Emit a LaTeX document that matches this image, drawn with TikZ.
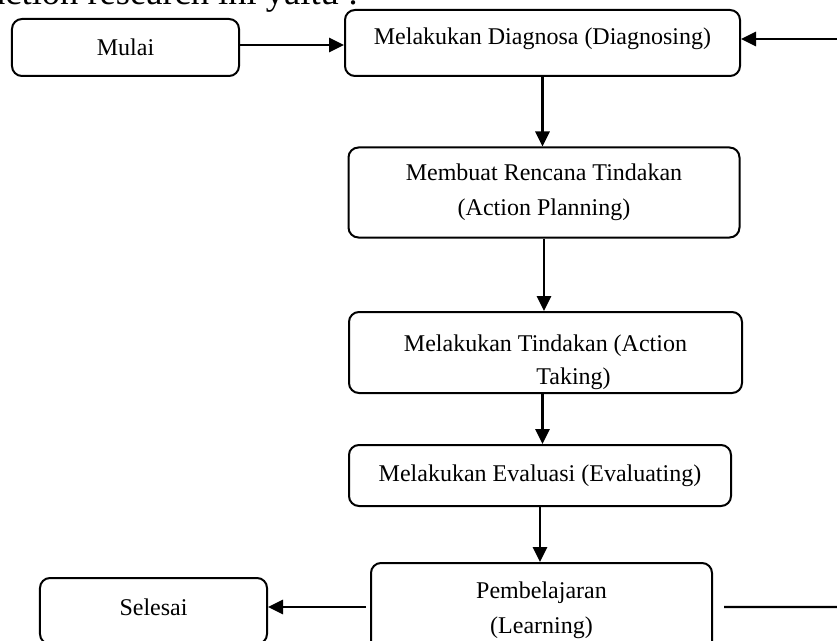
\documentclass[tikz,border=0pt]{standalone}
\usepackage{fontspec}
\setmainfont{Liberation Serif}
\usetikzlibrary{arrows.meta}
\tikzset{
  flowbox/.style={draw, line width=2bp, rounded corners=10bp, align=center,
    inner sep=0pt, font=\fontsize{24bp}{35bp}\selectfont},
  boxtext/.style={align=center, inner sep=0pt, font=\fontsize{24bp}{33bp}\selectfont},
  flowarrow/.style={line width=2.8bp, -{Triangle[length=15bp,width=14bp]}},
  flowline/.style={line width=2.2bp}
}
\begin{document}
\begin{tikzpicture}[x=1bp,y=-1bp]
\useasboundingbox (0,0) rectangle (837,641);
\clip (0,0) rectangle (837,641);

% running text above the chart
\node[anchor=base west, inner sep=0pt, font=\fontsize{36.5bp}{42bp}\selectfont]
  (heading) at (-11,5) {action research ini yaitu :};

% process boxes
\node[flowbox, minimum width=227bp, minimum height=57bp] (mulai) at (125.5,47.5) {Mulai};
\node[flowbox, minimum width=395bp, minimum height=66bp, text depth=14bp] (diag) at (542.5,43)
  {Melakukan Diagnosa (Diagnosing)};
\node[flowbox, minimum width=391bp, minimum height=90bp] (plan) at (544,192.5)
  {Membuat Rencana Tindakan\\(Action Planning)};
\node[flowbox, minimum width=393bp, minimum height=81bp] (act) at (545.5,352.5) {};
\begin{scope}
  \clip (349,312) rectangle (742,389);
  \node[boxtext] (acttext) at (545.5,362) {Melakukan Tindakan (Action\\\hspace*{56bp}Taking)};
\end{scope}
\node[flowbox, minimum width=382bp, minimum height=61bp] (eval) at (540,475.5)
  {Melakukan Evaluasi (Evaluating)};
\node[flowbox, minimum width=341bp, minimum height=95bp] (learn) at (541.5,610.5)
  {Pembelajaran\\(Learning)};
\node[flowbox, minimum width=227bp, minimum height=66bp, text depth=8bp] (selesai) at (153.5,611)
  {Selesai};

% connectors
\coordinate (mulaiout) at ([yshift=2.5bp]mulai.east);
\draw[flowarrow] (mulaiout) -- (mulaiout -| diag.west);

\coordinate (loopin) at (837,39);
\draw[flowarrow] (loopin) -- (loopin -| diag.east);

\draw[flowarrow] (diag.south) -- (diag.south |- plan.north);
\draw[flowarrow] (plan.south) -- (plan.south |- act.north);
\draw[flowarrow] (act.south -| diag.south) -- (eval.north -| diag.south);
\draw[flowarrow] (eval.south) -- (eval.south |- learn.north);

\coordinate (learnout) at ([xshift=-4bp,yshift=3.5bp]learn.west);
\draw[flowarrow] (learnout) -- (learnout -| selesai.east);

\coordinate (loopstart) at ([xshift=11bp,yshift=3.5bp]learn.east);
\coordinate (loopedge) at (837,607);
\draw[flowline] (loopstart) -- (loopedge);
\end{tikzpicture}
\end{document}
